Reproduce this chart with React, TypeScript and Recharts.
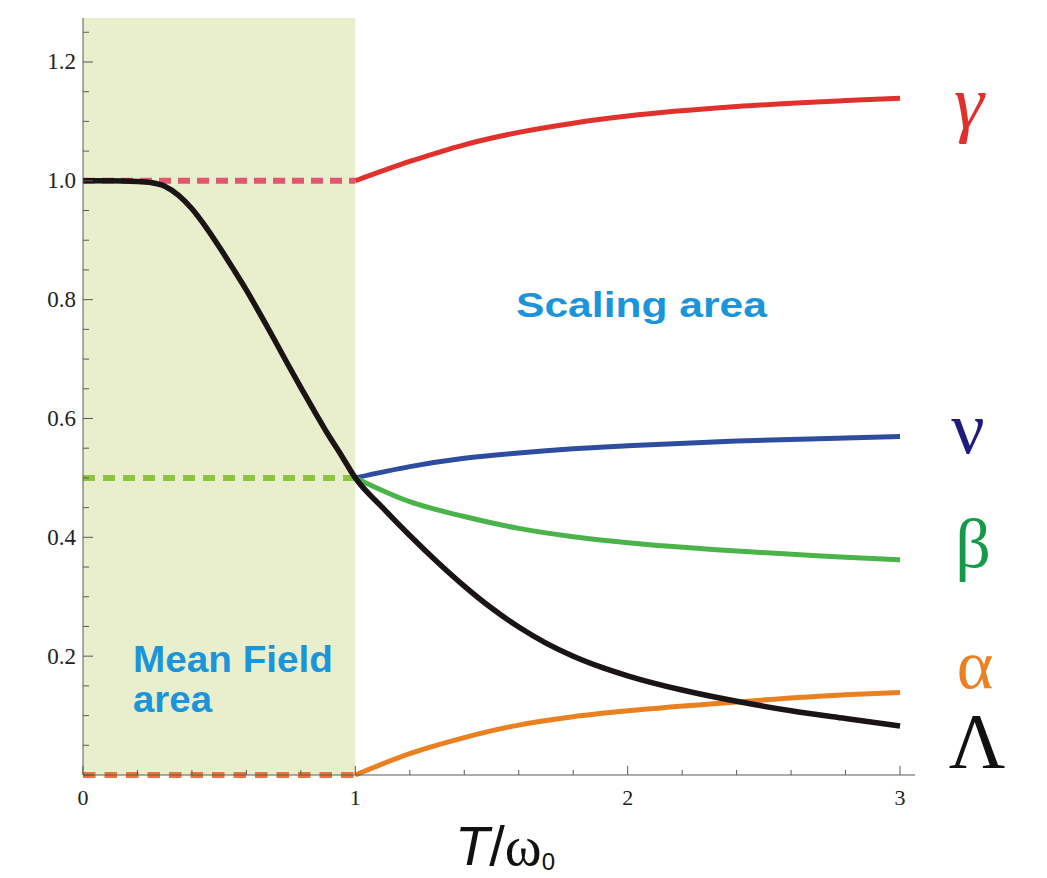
import { LineChart, Line, XAxis, YAxis, ReferenceArea } from "recharts";

// Lambda readings over T / omega_0
const lambdaT = [0, 0.1, 0.2, 0.25, 0.3, 0.35, 0.4, 0.45, 0.5, 0.55, 0.6, 0.65, 0.7, 0.75, 0.8, 0.85, 0.9, 0.95, 1.0, 1.1, 1.2, 1.3, 1.4, 1.5, 1.6, 1.7, 1.8, 1.9, 2.0, 2.2, 2.4, 2.6, 2.8, 3.0];
const lambdaV = [1.0, 1.0, 0.999, 0.997, 0.991, 0.976, 0.953, 0.923, 0.889, 0.853, 0.816, 0.776, 0.735, 0.693, 0.652, 0.612, 0.573, 0.537, 0.5, 0.45, 0.403, 0.359, 0.318, 0.281, 0.249, 0.222, 0.2, 0.182, 0.167, 0.143, 0.124, 0.108, 0.095, 0.0825];

const scalingT = [1.0, 1.2, 1.4, 1.6, 1.8, 2.0, 2.4, 2.8, 3.0];
const gammaV = [1.0, 1.0325, 1.0606, 1.0815, 1.097, 1.109, 1.125, 1.135, 1.139];
const nuV = [0.5, 0.519, 0.533, 0.542, 0.549, 0.554, 0.562, 0.567, 0.5695];
const betaV = [0.5, 0.46, 0.435, 0.415, 0.401, 0.391, 0.377, 0.3665, 0.362];
const alphaV = [0.0, 0.036, 0.063, 0.084, 0.098, 0.108, 0.123, 0.135, 0.139];

// mean field values, constant for T < omega_0
const meanFieldT = [0, 1];
const meanGamma = [1.0, 1.0];
const meanNu = [0.5, 0.5];
const meanAlpha = [0.0, 0.0];

const xTicks = [0, 0.2, 0.4, 0.6, 0.8, 1, 1.2, 1.4, 1.6, 1.8, 2, 2.2, 2.4, 2.6, 2.8, 3];
const yTicks = [0, 0.05, 0.1, 0.15, 0.2, 0.25, 0.3, 0.35, 0.4, 0.45, 0.5, 0.55, 0.6, 0.65, 0.7, 0.75, 0.8, 0.85, 0.9, 0.95, 1.0, 1.05, 1.1, 1.15, 1.2, 1.25];

const toPoints = (ts: number[], vs: number[]) => ts.map((t, i) => ({ t, v: vs[i] }));

const axisColor = "#5a5a5a";
const serif = "'Liberation Serif', 'Times New Roman', serif";
const sans = "'Liberation Sans', Arial, sans-serif";

const XTick = (props: any) => {
  const { x, y, payload } = props;
  const v = payload.value;
  const major = Math.abs(v - Math.round(v)) < 1e-6;
  return (
    <g>
      <line x1={x} y1={y} x2={x} y2={y - (major ? 9 : 5)} stroke={axisColor} strokeWidth={1} />
      {major && (
        <text x={x} y={y + 30} textAnchor="middle" fontFamily={serif} fontSize={22} fill="#222">
          {v}
        </text>
      )}
    </g>
  );
};

const YTick = (props: any) => {
  const { x, y, payload } = props;
  const v = payload.value;
  const major = Math.abs(v / 0.2 - Math.round(v / 0.2)) < 1e-6;
  return (
    <g>
      <line x1={x} y1={y} x2={x + (major ? 10 : 6)} y2={y} stroke={axisColor} strokeWidth={1} />
      {major && v > 0 && (
        <text x={x - 7} y={y + 7.5} textAnchor="end" fontFamily={serif} fontSize={23} fill="#222">
          {v.toFixed(1)}
        </text>
      )}
    </g>
  );
};

const App = () => {
  return (
    <div style={{ position: "absolute", left: 0, top: 0, width: 1047, height: 878, background: "#fff", overflow: "hidden" }}>
      <LineChart width={1047} height={878} margin={{ top: 18, right: 132, bottom: 0, left: 0 }}>
        <XAxis
          type="number"
          dataKey="t"
          domain={[0, 3.055]}
          ticks={xTicks}
          interval={0}
          tick={(p: any) => <XTick {...p} />}
          tickLine={false}
          tickSize={0}
          tickMargin={0}
          axisLine={{ stroke: axisColor, strokeWidth: 1 }}
          height={103}
        />
        <YAxis
          type="number"
          domain={[0, 1.274]}
          ticks={yTicks}
          interval={0}
          tick={(p: any) => <YTick {...p} />}
          tickLine={false}
          tickSize={0}
          tickMargin={0}
          axisLine={{ stroke: axisColor, strokeWidth: 1 }}
          width={83}
        />
        <ReferenceArea x1={0} x2={1} fill="#e9efcd" fillOpacity={1} stroke="none" />

        <Line data={toPoints(meanFieldT, meanGamma)} dataKey="v" stroke="#e35670" strokeWidth={6} strokeDasharray="12 7" dot={false} isAnimationActive={false} />
        <Line data={toPoints(meanFieldT, meanNu)} dataKey="v" stroke="#8dc43f" strokeWidth={6} strokeDasharray="12 8" dot={false} isAnimationActive={false} />
        <Line data={toPoints(meanFieldT, meanAlpha)} dataKey="v" stroke="#e8743e" strokeWidth={6} strokeDasharray="12.5 9" dot={false} isAnimationActive={false} />

        <Line data={toPoints(scalingT, gammaV)} type="monotone" dataKey="v" stroke="#e0312d" strokeWidth={5} dot={false} isAnimationActive={false} />
        <Line data={toPoints(scalingT, nuV)} type="monotone" dataKey="v" stroke="#2e4d9e" strokeWidth={5} dot={false} isAnimationActive={false} />
        <Line data={toPoints(scalingT, betaV)} type="monotone" dataKey="v" stroke="#4ab34a" strokeWidth={5} dot={false} isAnimationActive={false} />
        <Line data={toPoints(scalingT, alphaV)} type="monotone" dataKey="v" stroke="#ea8121" strokeWidth={5} dot={false} isAnimationActive={false} />
        <Line data={toPoints(lambdaT, lambdaV)} type="monotone" dataKey="v" stroke="#1a1414" strokeWidth={5.5} dot={false} isAnimationActive={false} />
      </LineChart>

      <svg width={1047} height={878} style={{ position: "absolute", left: 0, top: 0, pointerEvents: "none" }}>
        <text x={516} y={317} fontFamily={sans} fontWeight="bold" fontSize={35} fill="#1b95d9" textLength={251} lengthAdjust="spacingAndGlyphs">
          Scaling area
        </text>
        <text x={133} y={672} fontFamily={sans} fontWeight="bold" fontSize={37} fill="#1b95d9" textLength={200} lengthAdjust="spacingAndGlyphs">
          Mean Field
        </text>
        <text x={133} y={712} fontFamily={sans} fontWeight="bold" fontSize={37} fill="#1b95d9" textLength={79} lengthAdjust="spacingAndGlyphs">
          area
        </text>

        <text x={969} y={128} textAnchor="middle" fontFamily={serif} fontStyle="italic" fontSize={76} fill="#e0302c">γ</text>
        <text x={968} y={453} textAnchor="middle" fontFamily={serif} fontSize={74} fill="#1e1b7e">ν</text>
        <text x={973} y={567} textAnchor="middle" fontFamily={serif} fontSize={70} fill="#17994a">β</text>
        <text x={975} y={688} textAnchor="middle" fontFamily={serif} fontSize={70} fill="#ec8023">α</text>
        <text x={977} y={767} textAnchor="middle" fontFamily={serif} fontSize={78} fill="#111">Λ</text>

        <text x={455} y={865} fontFamily={sans} fontSize={56} fill="#111">
          <tspan fontStyle="italic">T</tspan>
          <tspan>/</tspan>
          <tspan fontFamily={serif}>ω</tspan>
          <tspan fontSize={24} dy={5}>0</tspan>
        </text>
      </svg>
    </div>
  );
};

export default App;
